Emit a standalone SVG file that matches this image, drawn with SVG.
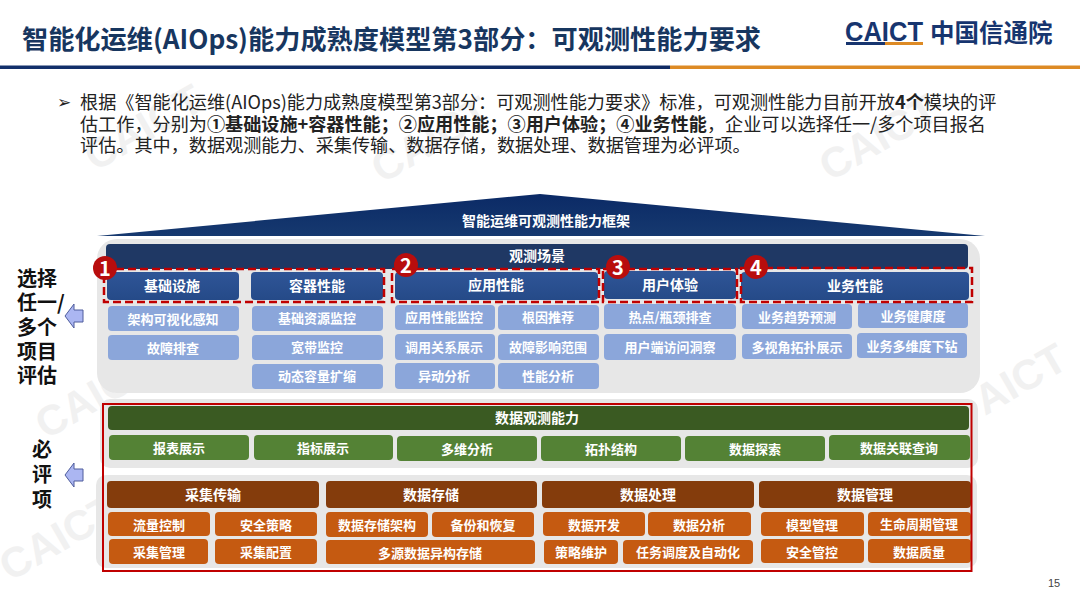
<svg xmlns="http://www.w3.org/2000/svg" width="1080" height="608" viewBox="0 0 1080 608">
<style>
text{font-family:"Noto Sans CJK SC","Liberation Sans",sans-serif}
.c{text-anchor:middle;dominant-baseline:central;font-weight:700;fill:#fff;font-size:13px;transform:translateY(-1px)}
.h{font-size:14px}
.wm{font-family:"Liberation Sans",sans-serif;font-weight:700;font-size:42px;fill:#f1f1f1}
.blue{fill:url(#gBlue)}
.sub{fill:#8ba6da}
.grn{fill:#548235}
.gh{fill:#3a5a22}
.brn{fill:#843c0c}
.org{fill:#c55a11}
.panel{fill:#e7e7e7}
.dash{fill:none;stroke:#c00000;stroke-width:2.5;stroke-dasharray:8 4}
.badge{fill:#b80d0d}
.num{font-size:20px;font-weight:700;fill:#fff;text-anchor:middle;dominant-baseline:central}
.side{font-size:20px;font-weight:700;fill:#111}
.arrow{fill:#abb6f2;stroke:#4f5d9c;stroke-width:1}
.body{font-size:18.140px;fill:#222}
.body tspan.b{font-weight:700}
</style>
<defs>
<linearGradient id="gBlue" x1="0" y1="0" x2="0" y2="1"><stop offset="0" stop-color="#2f5597"/><stop offset="1" stop-color="#254a88"/></linearGradient>
<linearGradient id="gRoof" x1="0" y1="0" x2="0" y2="1"><stop offset="0" stop-color="#0b2a66"/><stop offset="1" stop-color="#16396f"/></linearGradient>
<linearGradient id="gLine" x1="0" y1="0" x2="1" y2="0"><stop offset="0" stop-color="#12306b"/><stop offset="1" stop-color="#0f2a63"/></linearGradient>
</defs>
<rect width="1080" height="608" fill="#fff"/>
<g id="watermarks">
<text class="wm" transform="translate(95,172) rotate(-30)">CAICT</text>
<text class="wm" transform="translate(382,184) rotate(-30)">CAICT</text>
<text class="wm" transform="translate(830,182) rotate(-30)">CAICT</text>
<text class="wm" transform="translate(46,440) rotate(-30)">CAICT</text>
<text class="wm" transform="translate(10,582) rotate(-30)">CAICT</text>
<text class="wm" transform="translate(985,416) rotate(-30)">AICT</text>
</g>
<g id="header">
<text x="22" y="49" font-size="26.200" font-weight="700" fill="#17365f">智能化运维(AIOps)能力成熟度模型第3部分&#xFF1A;可观测性能力要求</text>
<rect x="0" y="65.500" width="670" height="3.500" fill="url(#gLine)"/>
<rect x="670" y="65.500" width="410" height="3.500" fill="#dd8a24"/>
<text x="845" y="41" style="font-family:'Liberation Sans',sans-serif" font-size="27" font-weight="700" fill="#17356f" textLength="78" lengthAdjust="spacingAndGlyphs">CAICT</text>
<rect x="846" y="42" width="39" height="3" fill="#17356f"/>
<rect x="885" y="42" width="38" height="3" fill="#dd8a24"/>
<text x="930" y="42" font-size="24.500" font-weight="700" fill="#17356f">中国信通院</text>
</g>
<g id="intro">
<text x="57" y="108" font-size="17" fill="#222">➢</text>
<text class="body" x="80" y="109">根据《智能化运维(AIOps)能力成熟度模型第3部分&#xFF1A;可观测性能力要求》标准&#xFF0C;可观测性能力目前开放<tspan class="b">4个</tspan>模块的评</text>
<text class="body" x="80" y="131">估工作&#xFF0C;分别为<tspan class="b">①基础设施+容器性能&#xFF1B;②应用性能&#xFF1B;③用户体验&#xFF1B;④业务性能</tspan>&#xFF0C;企业可以选择任一/多个项目报名</text>
<text class="body" x="80" y="152">评估。其中&#xFF0C;数据观测能力、采集传输、数据存储&#xFF0C;数据处理、数据管理为必评项。</text>
</g>
<g id="roof">
<polygon points="97,236 540,194 985,236" fill="url(#gRoof)"/>
<text class="c h" x="546" y="221">智能运维可观测性能力框架</text>
</g>
<g id="panels">
<rect class="panel" x="97" y="239" width="883" height="154" rx="20"/>
<rect class="panel" x="100" y="399" width="878" height="69" rx="10"/>
<rect class="panel" x="96" y="475" width="881" height="93" rx="10"/>
</g>
<g id="scene"><rect x="106" y="244" width="862" height="25" rx="4" fill="#1f3864"/><text class="c h" x="537" y="256">观测场景</text></g>
<g id="n-jichu"><rect class="blue" x="107" y="272" width="132" height="28" rx="4"/><text class="c h" x="172" y="286">基础设施</text></g>
<g id="n-rongqi"><rect class="blue" x="251" y="272" width="132" height="28" rx="4"/><text class="c h" x="317" y="286">容器性能</text></g>
<g id="n-yingyong"><rect class="blue" x="395" y="272" width="203" height="28" rx="4"/><text class="c h" x="496" y="285">应用性能</text></g>
<g id="n-yonghu"><rect class="blue" x="604" y="271" width="132" height="28" rx="4"/><text class="c h" x="670" y="285">用户体验</text></g>
<g id="n-yewu"><rect class="blue" x="741" y="272" width="228" height="28" rx="4"/><text class="c h" x="855" y="286">业务性能</text></g>
<g id="subs-blue">
<g id="s1"><rect class="sub" x="108" y="306" width="131" height="25" rx="4"/><text class="c" x="173" y="319">架构可视化感知</text></g>
<g id="s2"><rect class="sub" x="108" y="335" width="131" height="25" rx="4"/><text class="c" x="173" y="348">故障排查</text></g>
<g id="s3"><rect class="sub" x="252" y="306" width="131" height="25" rx="4"/><text class="c" x="317" y="318">基础资源监控</text></g>
<g id="s4"><rect class="sub" x="252" y="335" width="131" height="25" rx="4"/><text class="c" x="317" y="347">宽带监控</text></g>
<g id="s5"><rect class="sub" x="252" y="364" width="131" height="25" rx="4"/><text class="c" x="317" y="376">动态容量扩缩</text></g>
<g id="s6"><rect class="sub" x="395" y="305" width="100" height="25" rx="4"/><text class="c" x="444" y="317">应用性能监控</text></g>
<g id="s7"><rect class="sub" x="498" y="305" width="101" height="25" rx="4"/><text class="c" x="548" y="317">根因推荐</text></g>
<g id="s8"><rect class="sub" x="395" y="334" width="100" height="26" rx="4"/><text class="c" x="444" y="347">调用关系展示</text></g>
<g id="s9"><rect class="sub" x="498" y="334" width="101" height="26" rx="4"/><text class="c" x="548" y="347">故障影响范围</text></g>
<g id="s10"><rect class="sub" x="395" y="363" width="100" height="26" rx="4"/><text class="c" x="444" y="376">异动分析</text></g>
<g id="s11"><rect class="sub" x="498" y="363" width="101" height="26" rx="4"/><text class="c" x="548" y="376">性能分析</text></g>
<g id="s12"><rect class="sub" x="604" y="304" width="132" height="25" rx="4"/><text class="c" x="670" y="317">热点/瓶颈排查</text></g>
<g id="s13"><rect class="sub" x="604" y="334" width="132" height="26" rx="4"/><text class="c" x="670" y="347">用户端访问洞察</text></g>
<g id="s14"><rect class="sub" x="742" y="304" width="110" height="25" rx="4"/><text class="c" x="797" y="317">业务趋势预测</text></g>
<g id="s15"><rect class="sub" x="858" y="303" width="110" height="25" rx="4"/><text class="c" x="913" y="316">业务健康度</text></g>
<g id="s16"><rect class="sub" x="742" y="334" width="110" height="25" rx="4"/><text class="c" x="797" y="347">多视角拓扑展示</text></g>
<g id="s17"><rect class="sub" x="857" y="333" width="110" height="25" rx="4"/><text class="c" x="912" y="346">业务多维度下钻</text></g>
</g>
<g id="select-frames">
<rect class="dash" x="104" y="269" width="280" height="33"/>
<rect class="dash" x="392" y="269" width="207" height="33"/>
<rect class="dash" x="603" y="269" width="134" height="33"/>
<rect class="dash" x="741" y="268" width="231" height="34"/>
</g>
<g id="badges">
<g id="b1"><circle class="badge" cx="105" cy="268" r="12"/><text class="num" x="105" y="267">1</text></g>
<g id="b2"><circle class="badge" cx="406" cy="265" r="12"/><text class="num" x="406" y="264">2</text></g>
<g id="b3"><circle class="badge" cx="618" cy="267" r="12"/><text class="num" x="618" y="266">3</text></g>
<g id="b4"><circle class="badge" cx="756" cy="267" r="12"/><text class="num" x="756" y="266">4</text></g>
</g>
<g id="data-observe">
<g id="d0"><rect class="gh" x="108" y="406" width="861" height="24" rx="4"/><text class="c h" x="537" y="418">数据观测能力</text></g>
<g id="d1"><rect class="grn" x="109" y="435" width="140" height="25" rx="4"/><text class="c" x="179" y="448">报表展示</text></g>
<g id="d2"><rect class="grn" x="254" y="435" width="139" height="25" rx="4"/><text class="c" x="323" y="448">指标展示</text></g>
<g id="d3"><rect class="grn" x="397" y="436" width="140" height="25" rx="4"/><text class="c" x="467" y="449">多维分析</text></g>
<g id="d4"><rect class="grn" x="541" y="436" width="140" height="25" rx="4"/><text class="c" x="611" y="449">拓扑结构</text></g>
<g id="d5"><rect class="grn" x="685" y="436" width="140" height="25" rx="4"/><text class="c" x="755" y="449">数据探索</text></g>
<g id="d6"><rect class="grn" x="829" y="435" width="141" height="25" rx="4"/><text class="c" x="899" y="448">数据关联查询</text></g>
</g>
<g id="data-pipeline">
<g id="p1"><rect class="brn" x="107" y="481" width="212" height="27" rx="4"/><text class="c h" x="213" y="495">采集传输</text></g>
<g id="p2"><rect class="brn" x="326" y="481" width="211" height="27" rx="4"/><text class="c h" x="431" y="495">数据存储</text></g>
<g id="p3"><rect class="brn" x="542" y="481" width="212" height="27" rx="4"/><text class="c h" x="648" y="495">数据处理</text></g>
<g id="p4"><rect class="brn" x="759" y="481" width="212" height="27" rx="4"/><text class="c h" x="865" y="495">数据管理</text></g>
<g id="o1"><rect class="org" x="108" y="512" width="102" height="24" rx="4"/><text class="c" x="159" y="525">流量控制</text></g>
<g id="o2"><rect class="org" x="215" y="512" width="102" height="24" rx="4"/><text class="c" x="266" y="525">安全策略</text></g>
<g id="o3"><rect class="org" x="109" y="539" width="99" height="25" rx="4"/><text class="c" x="159" y="552">采集管理</text></g>
<g id="o4"><rect class="org" x="215" y="539" width="102" height="25" rx="4"/><text class="c" x="266" y="552">采集配置</text></g>
<g id="o5"><rect class="org" x="326" y="512" width="102" height="25" rx="4"/><text class="c" x="377" y="525">数据存储架构</text></g>
<g id="o6"><rect class="org" x="432" y="512" width="102" height="25" rx="4"/><text class="c" x="483" y="525">备份和恢复</text></g>
<g id="o7"><rect class="org" x="326" y="540" width="209" height="24" rx="4"/><text class="c" x="430" y="553">多源数据异构存储</text></g>
<g id="o8"><rect class="org" x="543" y="512" width="102" height="24" rx="4"/><text class="c" x="594" y="525">数据开发</text></g>
<g id="o9"><rect class="org" x="648" y="512" width="103" height="24" rx="4"/><text class="c" x="699" y="525">数据分析</text></g>
<g id="o10"><rect class="org" x="544" y="540" width="74" height="24" rx="4"/><text class="c" x="581" y="552">策略维护</text></g>
<g id="o11"><rect class="org" x="623" y="540" width="130" height="24" rx="4"/><text class="c" x="688" y="552">任务调度及自动化</text></g>
<g id="o12"><rect class="org" x="761" y="512" width="103" height="24" rx="4"/><text class="c" x="812" y="525">模型管理</text></g>
<g id="o13"><rect class="org" x="868" y="512" width="103" height="24" rx="4"/><text class="c" x="919" y="524">生命周期管理</text></g>
<g id="o14"><rect class="org" x="761" y="539" width="103" height="24" rx="4"/><text class="c" x="812" y="552">安全管控</text></g>
<g id="o15"><rect class="org" x="868" y="539" width="103" height="24" rx="4"/><text class="c" x="919" y="552">数据质量</text></g>
</g>
<rect id="required-frame" x="103" y="404" width="868.500" height="167" fill="none" stroke="#c00000" stroke-width="2"/>
<g id="labels">
<text class="side" x="17" y="286">选择</text>
<text class="side" x="17" y="310">任一/</text>
<text class="side" x="17" y="335">多个</text>
<text class="side" x="17" y="359">项目</text>
<text class="side" x="17" y="383">评估</text>
<text class="side" x="32" y="457">必</text>
<text class="side" x="32" y="482">评</text>
<text class="side" x="32" y="507">项</text>
</g>
<g id="connectors">
<polygon class="arrow" points="65,316 74,304 74,310 83,310 83,322 74,322 74,328"/>
<polygon class="arrow" points="65,475 74,463 74,469 83,469 83,481 74,481 74,487"/>
</g>
<text x="1048" y="587" font-size="11" fill="#444" style="font-family:'Liberation Sans',sans-serif">15</text>
</svg>
